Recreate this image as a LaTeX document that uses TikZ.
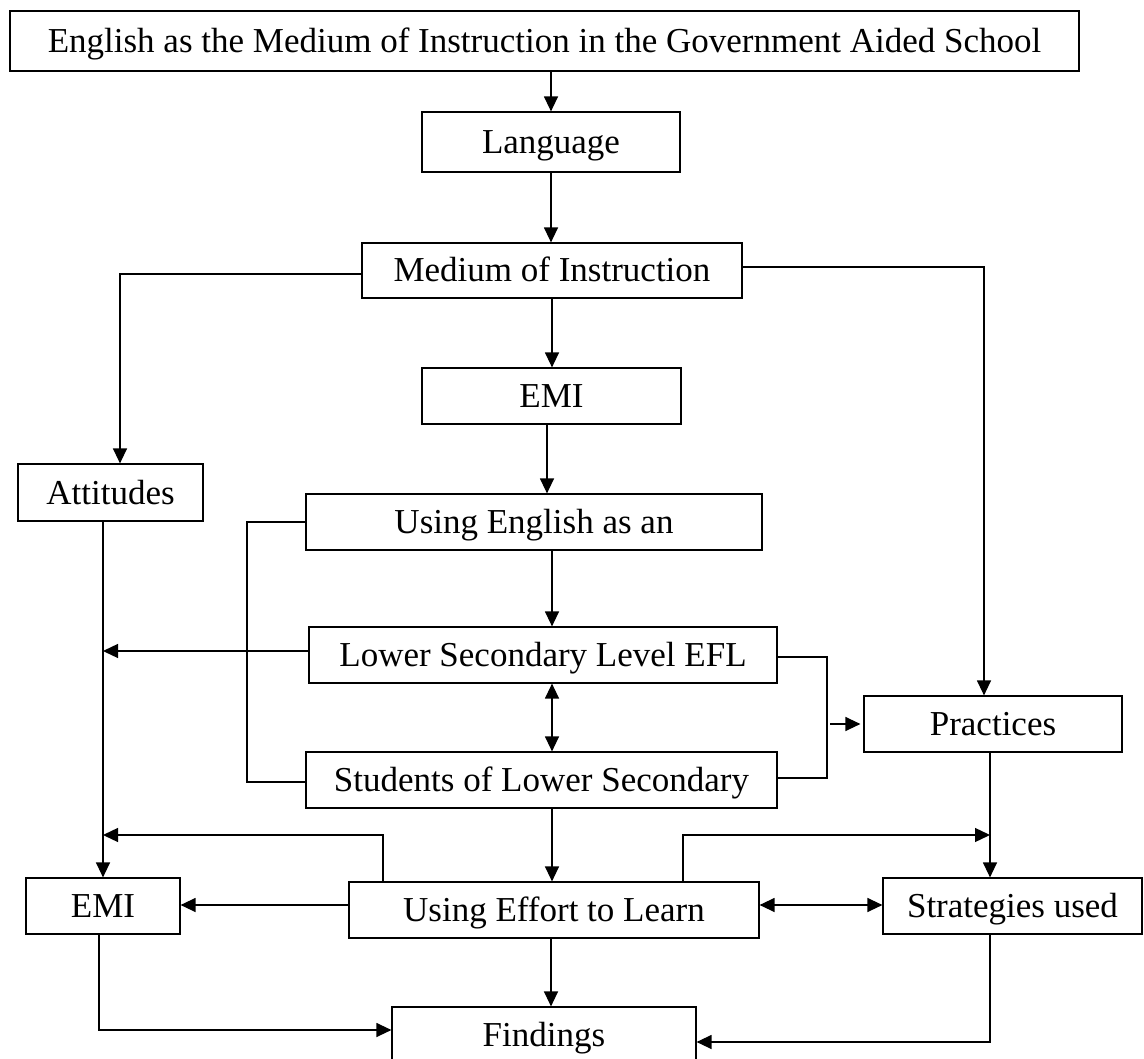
\documentclass[tikz,border=0pt]{standalone}
\usepackage{fontspec}
\setmainfont{Liberation Serif}
\usetikzlibrary{arrows.meta}
\tikzset{
  box/.style={draw, line width=1.2pt, inner sep=0pt, text height=23pt, text depth=0pt,
    font=\fontsize{35}{42}\selectfont},
  conn/.style={line width=1.3pt},
  arr/.style={conn, -{Triangle[length=15pt,width=14pt]}},
  arrtwo/.style={conn, {Triangle[length=15pt,width=14pt]}-{Triangle[length=15pt,width=14pt]}}
}
\begin{document}
\begin{tikzpicture}[x=1pt,y=-1pt]
\clip (0,0) rectangle (1144,1059);
\fill[white] (0,0) rectangle (1144,1059);

\node[box, minimum width=1069pt, minimum height=60pt] (title) at (544.5,41) {English as the Medium of Instruction in the Government Aided School};
\node[box, minimum width=258pt, minimum height=60pt] (lang) at (551,142) {Language};
\node[box, minimum width=380pt, minimum height=55pt] (medium) at (552,270.5) {Medium of Instruction};
\node[box, minimum width=259pt, minimum height=56pt] (emione) at (551.5,396) {EMI};
\node[box, minimum width=456pt, minimum height=56pt] (using) at (534,522) {Using English as an};
\node[box, minimum width=468pt, minimum height=56pt] (lower) at (543,655) {Lower Secondary Level EFL};
\node[box, minimum width=471pt, minimum height=56pt] (students) at (541.5,780) {Students of Lower Secondary};
\node[box, minimum width=185pt, minimum height=57pt] (attitudes) at (110.5,492.5) {Attitudes};
\node[box, minimum width=258pt, minimum height=56pt] (practices) at (993,724) {Practices};
\node[box, minimum width=154pt, minimum height=56pt] (emitwo) at (103,906) {EMI};
\node[box, minimum width=410pt, minimum height=56pt] (effort) at (554,910) {Using Effort to Learn};
\node[box, minimum width=259pt, minimum height=56pt] (strategies) at (1012.5,906) {Strategies used};
\node[box, minimum width=304pt, minimum height=56pt] (findings) at (544,1035) {Findings};

\coordinate (bl) at (247,0);
\coordinate (br) at (827,0);
\coordinate (pc) at (990,0);
\coordinate (top) at (0,835);

% main column
\draw[arr] (title.south -| lang.north) -- (lang.north);
\draw[arr] (lang.south) -- (medium.north -| lang.south);
\draw[arr] (medium.south) -- (emione.north -| medium.south);
\draw[arr] ([xshift=-4.5pt]emione.south) -- ([xshift=-4.5pt]emione.south |- using.north);
\draw[arr] (using.south -| medium.south) -- (lower.north -| medium.south);
\draw[arrtwo] (lower.south -| medium.south) -- (students.north -| medium.south);
\draw[arr] (students.south -| medium.south) -- (effort.north -| medium.south);
\draw[arr] (effort.south -| lang.south) -- (findings.north -| lang.south);

% medium branches
\draw[arr] ([yshift=-3.5pt]medium.west) -| ([xshift=9.5pt]attitudes.north);
\draw[arr] ([yshift=3.5pt]medium.east) -| ([xshift=-9pt]practices.north);

% attitudes column
\draw[arr] (emitwo.north |- attitudes.south) -- (emitwo.north);
\draw[arr] ([yshift=4pt]lower.west) -- ([yshift=4pt]lower.west -| emitwo.north);

% brackets
\draw[conn] (using.west) -- (using.west -| bl) -- ([yshift=-2pt]students.west -| bl) -- ([yshift=-2pt]students.west);
\draw[conn] ([yshift=-2pt]lower.east) -- ([yshift=-2pt]lower.east -| br) -- ([yshift=2pt]students.east -| br) -- ([yshift=2pt]students.east);
\draw[arr] ([xshift=3pt]practices.west -| br) -- ([xshift=-3pt]practices.west);

% practices to strategies
\draw[arr] (practices.south -| pc) -- (strategies.north -| pc);

% effort connections
\draw[arr] ([xshift=129pt]effort.north) |- (top -| pc);
\draw[arr] ([xshift=-171pt]effort.north) |- (top -| emitwo.north);
\draw[arr] ([yshift=1pt]effort.west |- emitwo.east) -- ([yshift=1pt]emitwo.east);
\draw[arrtwo] ([yshift=1pt]effort.east |- strategies.west) -- ([yshift=1pt]strategies.west);

% to findings
\draw[arr] ([xshift=-4pt]emitwo.south) |- ([yshift=5pt]findings.west);
\draw[arr] (strategies.south -| pc) |- ([yshift=-7pt]findings.east);
\end{tikzpicture}
\end{document}
